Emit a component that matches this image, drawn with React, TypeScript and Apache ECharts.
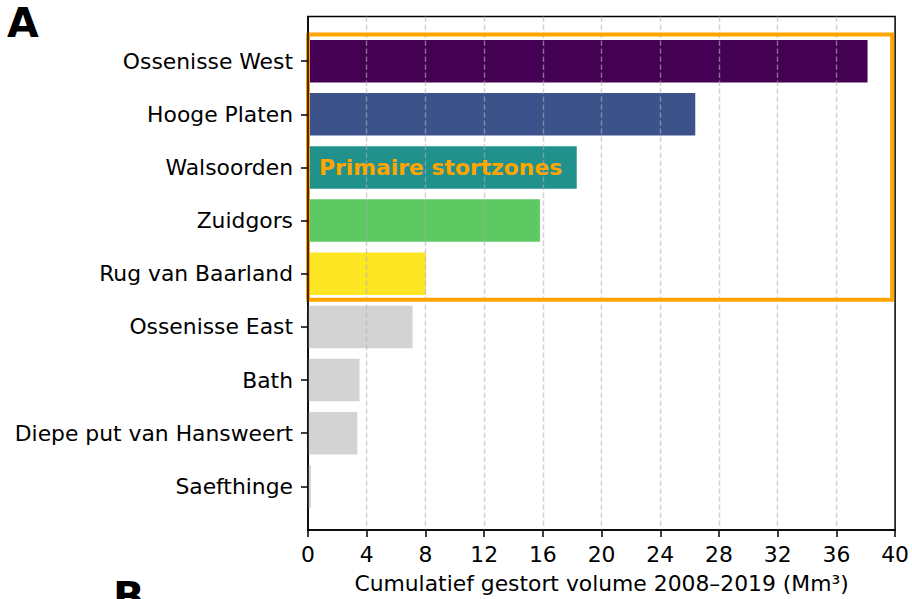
import React, { useEffect, useRef } from 'react';
import * as echarts from 'echarts';

const categories = [
  'Ossenisse West',
  'Hooge Platen',
  'Walsoorden',
  'Zuidgors',
  'Rug van Baarland',
  'Ossenisse East',
  'Bath',
  'Diepe put van Hansweert',
  'Saefthinge',
];
const volumes = [38.0, 26.3, 18.25, 15.75, 8.0, 7.1, 3.5, 3.35, 0.2];
const barColors = [
  '#440154',
  '#3b528b',
  '#21918c',
  '#5ec962',
  '#fde725',
  '#d3d3d3',
  '#d3d3d3',
  '#d3d3d3',
  '#d3d3d3',
];
const xMin = 0;
const xMax = 40;
const xInterval = 4;
const xAxisTitle = 'Cumulatief gestort volume 2008–2019 (Mm³)';
const highlightLabel = 'Primaire stortzones';
const zoneFirstRow = 0;
const zoneLastRow = 4;
const zoneXMax = 39.8;
const labelRow = 2;
const labelX = 0.75;
const panelLetter = 'A';
const nextPanelLetter = 'B';

export default function App() {
  const ref = useRef<HTMLDivElement>(null);
  useEffect(() => {
    const chart = echarts.init(ref.current!, null, { renderer: 'svg' });
    const font = 'DejaVu Sans';
    const fs = 21.85;
    const plotTop = 16.5;
    const plotBottom = 531;
    const yPad = 0.84;
    const yMin = -yPad;
    const yMax = categories.length - 1 + yPad;
    const unit = (plotBottom - plotTop) / (yMax - yMin);
    const bandTop = plotTop + (yPad - 0.5) * unit;

    const zTop = zoneFirstRow - 0.5;
    const zBot = zoneLastRow + 0.5;
    const rect = [
      [zoneXMax / 2, zTop],
      [zoneXMax, zTop],
      [zoneXMax, zBot],
      [0, zBot],
      [0, zTop],
      [zoneXMax / 2, zTop],
    ];

    chart.setOption({
      animation: false,
      backgroundColor: '#ffffff',
      grid: [
        {
          left: 308,
          right: 15,
          top: plotTop,
          bottom: 599 - plotBottom,
          show: true,
          borderColor: '#000',
          borderWidth: 1.5,
          backgroundColor: 'transparent',
        },
        {
          left: 308,
          right: 15,
          top: bandTop,
          height: categories.length * unit,
        },
      ],
      xAxis: [
        {
          gridIndex: 0,
          type: 'value',
          min: xMin,
          max: xMax,
          interval: xInterval,
          z: 3,
          axisLine: { show: true, onZero: false, lineStyle: { color: '#000', width: 1.5 } },
          axisTick: { show: true, length: 7, lineStyle: { color: '#000', width: 1.5 } },
          axisLabel: { fontSize: fs, color: '#000', fontFamily: font, margin: 13 },
          splitLine: {
            show: true,
            showMinLine: false,
            showMaxLine: false,
            lineStyle: { color: '#b0b0b0', opacity: 0.6, width: 1.4, type: [5.5, 2.5] },
          },
          name: xAxisTitle,
          nameLocation: 'middle',
          nameGap: 42,
          nameTextStyle: { fontSize: fs, color: '#000', fontFamily: font },
        },
        {
          gridIndex: 1,
          type: 'value',
          min: xMin,
          max: xMax,
          show: false,
        },
      ],
      yAxis: [
        {
          gridIndex: 0,
          type: 'value',
          min: yMin,
          max: yMax,
          inverse: true,
          z: 5,
          axisLine: { show: true, onZero: false, lineStyle: { color: '#000', width: 1.5 } },
          axisTick: { show: false },
          axisLabel: { show: false },
          splitLine: { show: false },
        },
        {
          gridIndex: 1,
          type: 'category',
          data: categories,
          inverse: true,
          z: 5,
          axisLine: { show: false, onZero: false },
          axisTick: {
            show: true,
            alignWithLabel: true,
            length: 7,
            lineStyle: { color: '#000', width: 1.5 },
          },
          axisLabel: { fontSize: fs, color: '#000', fontFamily: font, margin: 15 },
          splitLine: { show: false },
        },
      ],
      series: [
        {
          type: 'bar',
          xAxisIndex: 1,
          yAxisIndex: 1,
          barWidth: '80%',
          z: 2,
          data: volumes.map((v, i) => ({ value: v, itemStyle: { color: barColors[i] } })),
        },
        {
          type: 'line',
          xAxisIndex: 0,
          yAxisIndex: 0,
          data: rect,
          symbol: 'none',
          z: 4,
          lineStyle: { color: '#FFA500', width: 4, join: 'miter' },
        },
        {
          type: 'scatter',
          xAxisIndex: 0,
          yAxisIndex: 0,
          data: [[labelX, labelRow]],
          symbolSize: 0,
          itemStyle: { color: '#FFA500', opacity: 1 },
          z: 6,
          label: {
            show: true,
            formatter: highlightLabel,
            position: 'right',
            distance: 0,
            color: '#FFA500',
            opacity: 1,
            fontWeight: 'bold',
            fontSize: fs,
            fontFamily: font,
          },
        },
      ],
      graphic: [
        {
          type: 'text',
          left: 7,
          top: 2,
          z: 10,
          style: {
            text: panelLetter,
            fontSize: 41,
            fontWeight: 'bold',
            fontFamily: font,
            fill: '#000',
          },
        },
        {
          type: 'text',
          x: 113,
          y: 597,
          z: 10,
          style: {
            text: nextPanelLetter,
            fontSize: 41,
            fontWeight: 'bold',
            fontFamily: font,
            fill: '#000',
            textVerticalAlign: 'middle',
          },
        },
      ],
    });
    return () => chart.dispose();
  }, []);
  return (
    <div
      ref={ref}
      style={{ position: 'absolute', left: 0, top: 0, width: 912, height: 599 }}
    />
  );
}
